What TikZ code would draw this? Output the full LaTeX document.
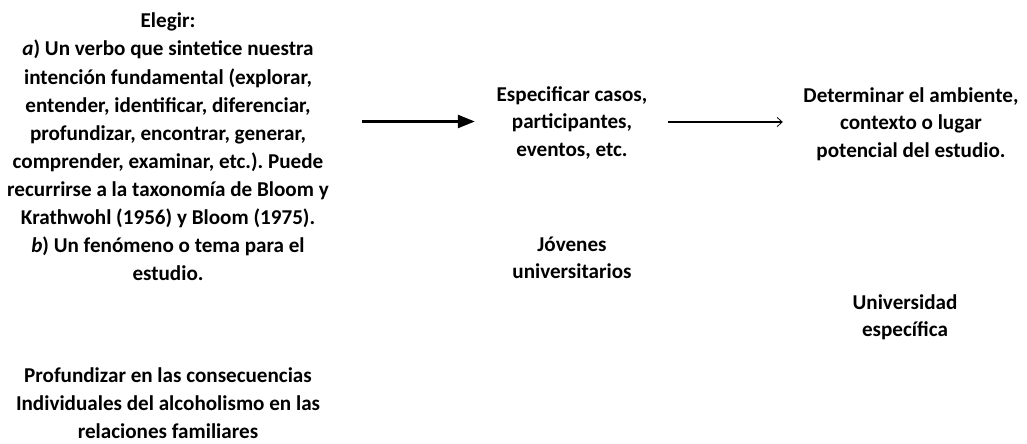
\documentclass[tikz,border=0pt]{standalone}
\usepackage{fontspec}
\setmainfont{Carlito}
\usetikzlibrary{arrows.meta}
\tikzset{
  txt/.style={align=center, inner sep=2bp, font=\fontsize{21.2}{27.6}\selectfont\bfseries\frenchspacing},
  txtL/.style={txt, font=\fontsize{21.2}{28.2}\selectfont\bfseries\frenchspacing},
  arrA/.style={line width=2.5bp, -{Triangle[length=17bp,width=13bp]}},
  arrB/.style={line width=2.4bp, -{Straight Barb[length=5bp,width=9bp,line width=0.8bp]}},
}
\begin{document}
\begin{tikzpicture}[x=1bp,y=-1bp]
\useasboundingbox (0,0) rectangle (1027,444);
\node[txtL, minimum width=340bp] (eleg) at (168,147) {Elegir:\\\textit{a}) Un verbo que sintetice nuestra\\intención fundamental (explorar,\\entender, identificar, diferenciar,\\profundizar, encontrar, generar,\\comprender, examinar, etc.). Puede\\recurrirse a la taxonomía de Bloom y\\Krathwohl (1956) y Bloom (1975).\\\textit{b}) Un fenómeno o tema para el\\estudio.};
\node[txt, minimum width=160bp] (espe) at (572,123) {Especificar casos,\\participantes,\\eventos, etc.};
\node[txt, minimum width=230bp] (dete) at (911,124) {Determinar el ambiente,\\contexto o lugar\\potencial del estudio.};
\node[txt] (jove) at (572,258) {Jóvenes\\universitarios};
\node[txt] (univ) at (905,317) {Universidad\\específica};
\node[txtL] (prof) at (168,403) {Profundizar en las consecuencias\\Individuales del alcoholismo en las\\relaciones familiares};
\coordinate (a1) at (0,121.5);
\coordinate (a2) at (0,122);
\draw[arrA, shorten <=24bp, shorten >=17bp] (eleg.east |- a1) -- (espe.west |- a1);
\draw[arrB, shorten <=16bp, shorten >=13bp] (espe.east |- a2) -- (dete.west |- a2);
\end{tikzpicture}
\end{document}
